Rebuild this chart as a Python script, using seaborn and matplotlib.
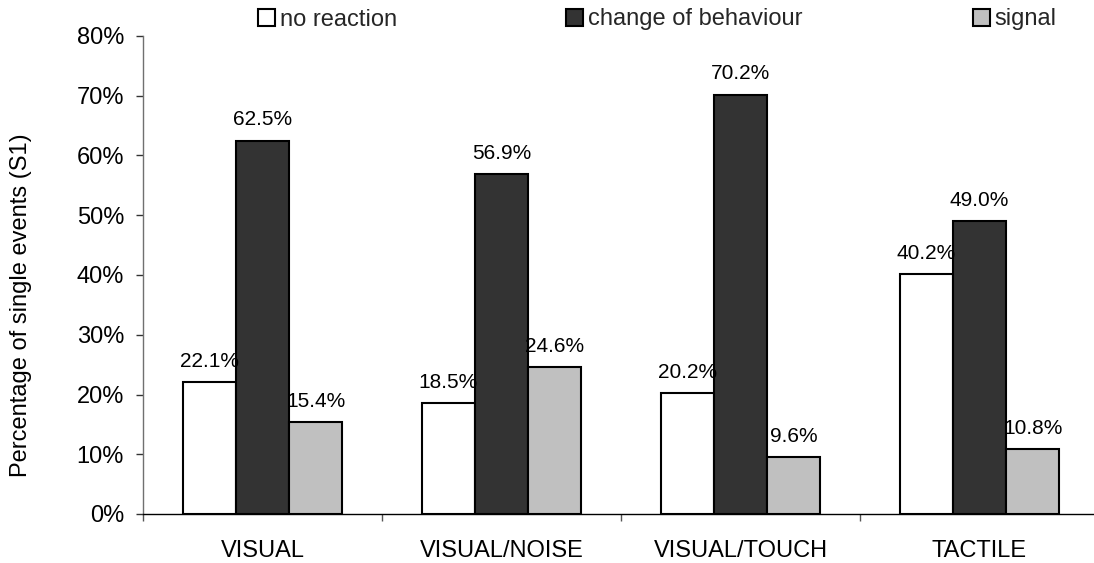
import matplotlib
matplotlib.use("Agg")
import matplotlib.pyplot as plt
from matplotlib.patches import Patch
from matplotlib.ticker import FixedLocator, PercentFormatter
import pandas as pd
import seaborn as sns

# Reaction shares per stimulus type (percent of single events, S1)
conditions = ["VISUAL", "VISUAL/NOISE", "VISUAL/TOUCH", "TACTILE"]
reactions = ["no reaction", "change of behaviour", "signal"]
no_reaction = [22.1, 18.5, 20.2, 40.2]
change_of_behaviour = [62.5, 56.9, 70.2, 49.0]
signal = [15.4, 24.6, 9.6, 10.8]
bar_colors = ["#FFFFFF", "#333333", "#C0C0C0"]
y_ticks = [0, 10, 20, 30, 40, 50, 60, 70, 80]

df = pd.DataFrame({
    "condition": conditions * 3,
    "reaction": [reactions[0]] * 4 + [reactions[1]] * 4 + [reactions[2]] * 4,
    "share": no_reaction + change_of_behaviour + signal,
})

sns.set_theme(style="white")
plt.rcParams["font.family"] = ["Liberation Sans", "DejaVu Sans"]

W, H = 1094, 563
fig = plt.figure(figsize=(W / 100, H / 100), dpi=100)
ax = fig.add_axes([143 / W, 1 - 514 / H, (1099 - 143) / W, (514 - 36) / H])

sns.barplot(
    data=df, x="condition", y="share", hue="reaction",
    order=conditions, hue_order=reactions, palette=bar_colors,
    saturation=1, width=0.667, edgecolor="black", linewidth=1.5,
    legend=False, ax=ax,
)

for cont in ax.containers:
    ax.bar_label(cont, labels=[f"{v:.1f}%" for v in cont.datavalues],
                 padding=8, fontsize=15, color="black")

ax.set_xlim(-0.5, 3.5)
ax.set_ylim(0, 80)
ax.set_yticks(y_ticks)
ax.yaxis.set_major_formatter(PercentFormatter(decimals=0))
ax.set_xlabel("")
ax.set_ylabel("")

for side in ("top", "right"):
    ax.spines[side].set_visible(False)
ax.spines["left"].set_color("#707070")
ax.spines["left"].set_linewidth(1.0)
ax.spines["bottom"].set_color("black")
ax.spines["bottom"].set_linewidth(1.0)

ax.tick_params(axis="y", direction="out", length=5, width=1, color="#333333",
               pad=8.6, labelsize=17, left=True, labelcolor="black")
ax.tick_params(axis="x", which="major", length=0, pad=18.7, labelsize=17,
               labelcolor="black")
ax.xaxis.set_minor_locator(FixedLocator([-0.5, 0.5, 1.5, 2.5, 3.5]))
ax.tick_params(axis="x", which="minor", direction="out", length=5, width=1,
               color="#555555", bottom=True)

fig.text(21 / W, 1 - 305 / H, "Percentage of single events (S1)",
         rotation=90, ha="center", va="center", fontsize=17, color="black")

# One legend entry per series, laid out along the top edge
legend_x = [258, 566, 973]
for name, color, x in zip(reactions, bar_colors, legend_x):
    handle = Patch(facecolor=color, edgecolor="black", linewidth=1.5)
    fig.legend([handle], [name], loc="center left",
               bbox_to_anchor=(x / W, 1 - 19.5 / H), frameon=False,
               fontsize=17, handlelength=0.72, handleheight=0.72,
               handletextpad=0.2, borderpad=0, borderaxespad=0)

fig.savefig("out.png", dpi=100)
